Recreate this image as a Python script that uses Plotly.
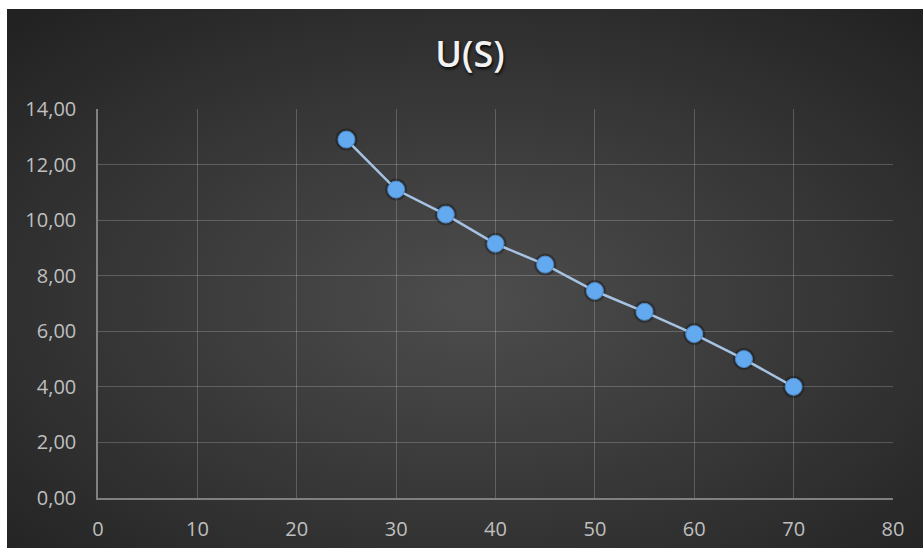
import base64
import plotly.graph_objects as go

# Data series: U as a function of S
s_values = [25, 30, 35, 40, 45, 50, 55, 60, 65, 70]
u_values = [12.90, 11.10, 10.20, 9.15, 8.40, 7.45, 6.70, 5.90, 5.00, 4.00]

x_ticks = [0, 10, 20, 30, 40, 50, 60, 70, 80]
y_ticks = [0, 2, 4, 6, 8, 10, 12, 14]

W, H = 924, 548
M_L, M_R, M_T, M_B = 98, 31, 109, 50
plot_w = W - M_L - M_R
plot_h = H - M_T - M_B

# Dark radial-gradient backdrop for the chart area
svg = (
    '<svg xmlns="http://www.w3.org/2000/svg" width="917" height="539" '
    'preserveAspectRatio="none" viewBox="0 0 917 539">'
    '<defs><radialGradient id="g" cx="0.51" cy="0.54" r="0.72">'
    '<stop offset="0" stop-color="#4d4d4d"/>'
    '<stop offset="0.55" stop-color="#363636"/>'
    '<stop offset="1" stop-color="#222222"/>'
    '</radialGradient></defs>'
    '<rect width="917" height="539" fill="url(#g)"/></svg>'
)
bg_src = "data:image/svg+xml;base64," + base64.b64encode(svg.encode()).decode()

bx0, by0, bx1, by1 = 7, 9, 923, 548
img_x = (bx0 - M_L) / plot_w
img_y = (H - M_B - by0) / plot_h
img_sx = (bx1 - bx0) / plot_w
img_sy = (by1 - by0) / plot_h

fig = go.Figure()

# soft shadow under the markers
fig.add_trace(go.Scatter(
    x=s_values, y=u_values, mode="markers",
    marker=dict(size=22, color="rgba(0,0,0,0.28)", line=dict(width=0)),
    hoverinfo="skip", showlegend=False,
))

fig.add_trace(go.Scatter(
    x=s_values, y=u_values, mode="lines+markers",
    line=dict(color="#a6c3e3", width=2.5),
    marker=dict(size=17, color="#63a9ef", line=dict(color="#4b87c6", width=1)),
    showlegend=False,
))

tick_font = dict(family="Open Sans", size=20, color="#bfbfbf")

fig.update_layout(
    width=W, height=H,
    margin=dict(l=M_L, r=M_R, t=M_T, b=M_B, pad=0, autoexpand=False),
    paper_bgcolor="#ffffff",
    plot_bgcolor="rgba(0,0,0,0)",
    separators=",.",
    images=[dict(
        source=bg_src, xref="paper", yref="paper",
        x=img_x, y=img_y, sizex=img_sx, sizey=img_sy,
        xanchor="left", yanchor="top", sizing="stretch", layer="below",
    )],
    title=dict(
        text="U(S)", xref="container", yref="container",
        x=470 / W, y=1 - 54 / H, xanchor="center", yanchor="middle",
        font=dict(family="Open Sans", size=36, color="#f2f2f2", weight=600,
                  shadow="1px 2px 3px rgba(0,0,0,0.85)"),
    ),
    xaxis=dict(
        range=[0, 80], tickvals=x_ticks, tickformat="d", automargin=False,
        showgrid=True, gridcolor="rgba(255,255,255,0.2)", gridwidth=1,
        showline=True, linecolor="#808080", linewidth=1.5,
        zeroline=False, ticks="", ticklabelstandoff=12, tickfont=tick_font,
    ),
    yaxis=dict(
        range=[0, 14], tickvals=y_ticks, tickformat=".2f", automargin=False,
        showgrid=True, gridcolor="rgba(255,255,255,0.2)", gridwidth=1,
        showline=True, linecolor="#808080", linewidth=1.5,
        zeroline=False, ticks="", ticklabelstandoff=16, tickfont=tick_font,
    ),
)

fig.write_html("out.html")
